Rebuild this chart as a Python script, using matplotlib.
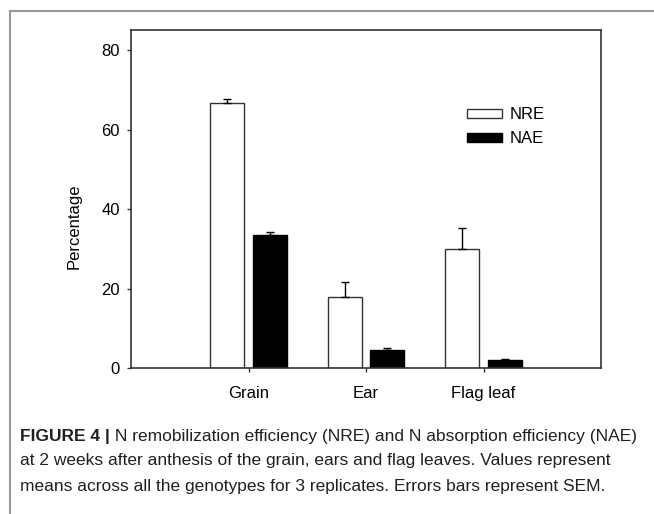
import matplotlib
matplotlib.use("Agg")
import matplotlib.pyplot as plt
from matplotlib.lines import Line2D
import numpy as np

categories = ["Grain", "Ear", "Flag leaf"]
nre = [66.6, 17.9, 30.0]
nre_err = [1.0, 3.7, 5.3]
nae = [33.4, 4.6, 2.0]
nae_err = [0.9, 0.4, 0.3]
series_names = ["NRE", "NAE"]
yticks = [0, 20, 40, 60, 80]
caption_bold = "FIGURE 4 |"
caption_lines = [
    " N remobilization efficiency (NRE) and N absorption efficiency (NAE)",
    "at 2 weeks after anthesis of the grain, ears and flag leaves. Values represent",
    "means across all the genotypes for 3 replicates. Errors bars represent SEM.",
]

plt.rcParams['font.family'] = ['Liberation Sans', 'DejaVu Sans']

W, H = 654, 514
fig = plt.figure(figsize=(W / 100, H / 100), dpi=100)

ax = fig.add_axes([131 / W, 1 - 368 / H, 470 / W, (368 - 29.5) / H])
x = np.arange(1, len(categories) + 1)
bw = 0.29
off = 0.18
ax.bar(x - off, nre, bw, color="white", edgecolor="#333333", linewidth=1.0,
       yerr=[np.zeros(3), nre_err], error_kw=dict(ecolor="black", elinewidth=1.0, capsize=3, capthick=1.0),
       label=series_names[0], zorder=2)
ax.bar(x + off, nae, bw, color="black", edgecolor="black", linewidth=1.0,
       yerr=[np.zeros(3), nae_err], error_kw=dict(ecolor="black", elinewidth=1.0, capsize=3, capthick=1.0),
       label=series_names[1], zorder=2)

ax.set_xlim(0, 4)
ax.set_ylim(0, 85.2)
ax.set_xticks(x)
ax.set_xticklabels(categories, fontsize=12)
ax.set_yticks(yticks)
ax.set_yticklabels([str(t) for t in yticks], fontsize=12)
ax.tick_params(direction="out", length=3, width=1, color="#333333", pad=5)
ax.tick_params(axis="x", pad=10)
for s in ax.spines.values():
    s.set_color("#333333")
    s.set_linewidth(1.2)
ax.set_ylabel("Percentage", fontsize=12)
ax.yaxis.set_label_coords(-0.105, 0.42)

leg = ax.legend(loc="upper left", bbox_to_anchor=(0.7, 0.79), frameon=False, fontsize=12,
                handlelength=2.1, handleheight=0.5, labelspacing=0.55, handletextpad=0.5,
                borderaxespad=0)

# outer border
fig.add_artist(Line2D([9.7 / W, 9.7 / W], [0, 1 - 10.5 / H], color="#999999", lw=1.5,
                      transform=fig.transFigure))
fig.add_artist(Line2D([9.7 / W, 1], [1 - 10.5 / H, 1 - 10.5 / H], color="#999999", lw=1.5,
                      transform=fig.transFigure))

# caption
cap_color = "#231f20"
cfs = 12.55
ys = [436, 461, 486]
t0 = fig.text(20 / W, 1 - ys[0] / H, caption_bold, fontsize=cfs, fontweight="bold",
              color=cap_color, va="center", ha="left")
fig.canvas.draw()
bb = t0.get_window_extent()
fig.text(bb.x1 / W, 1 - ys[0] / H, caption_lines[0], fontsize=cfs, color=cap_color,
         va="center", ha="left")
for i in (1, 2):
    fig.text(20 / W, 1 - ys[i] / H, caption_lines[i], fontsize=cfs, color=cap_color,
             va="center", ha="left")

fig.savefig("out.png", dpi=100)
